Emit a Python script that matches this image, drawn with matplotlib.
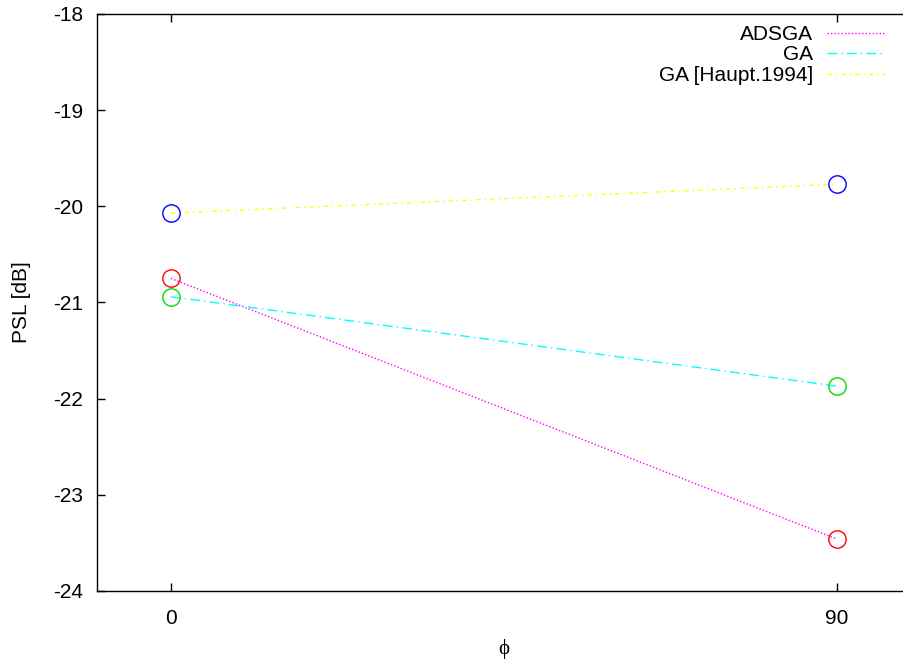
import matplotlib
matplotlib.use("Agg")
import matplotlib.pyplot as plt

# data
phi = [0, 90]
adsga = [-20.75, -23.46]
ga = [-20.94, -21.87]
haupt = [-20.07, -19.77]

labels = ["ADSGA", "GA", "GA [Haupt.1994]"]
line_colors = ["#ff00ff", "#00ffff", "#ffff00"]
marker_colors = ["#ff0000", "#00dd00", "#0000ff"]
dashes = [(0, (1, 1.5)), (0, (7, 3, 1, 3)), (0, (3, 3, 1, 3))]

plt.rcParams["font.family"] = ["Liberation Sans", "DejaVu Sans"]
plt.rcParams["font.size"] = 15
plt.rcParams["axes.unicode_minus"] = False

fig = plt.figure(figsize=(9.04, 6.65), dpi=100)
# right edge of the frame falls just outside the picture, as in the reference
ax = fig.add_axes([97 / 904, 74 / 665, 814 / 904, 577 / 665])

series = [adsga, ga, haupt]
for vals, lab, lc, ls in zip(series, labels, line_colors, dashes):
    ax.plot(phi, vals, color=lc, linestyle=ls, lw=1.0, label=lab)
for vals, mc in zip(series, marker_colors):
    ax.plot(phi, vals, linestyle="none", marker="o", markersize=12.5,
            markerfacecolor="none", markeredgecolor=mc, markeredgewidth=1.0)

ax.set_xlim(-10, 100)
ax.set_ylim(-24, -18)
ax.set_xticks([0, 90])
ax.set_yticks([-24, -23, -22, -21, -20, -19, -18])
ax.tick_params(direction="in", length=6, width=1, top=True, right=True)
ax.tick_params(axis="y", pad=10)
ax.tick_params(axis="x", pad=13)
for s in ax.spines.values():
    s.set_linewidth(1.0)

ax.set_ylabel("PSL [dB]", labelpad=16)
ax.set_xlabel("\u03d5", labelpad=8, family=["Liberation Serif", "DejaVu Serif"])

ax.legend(loc="upper right", bbox_to_anchor=(0.968, 0.981), frameon=False,
          markerfirst=False, handlelength=2.8, handletextpad=0.65,
          labelspacing=0.07, borderpad=0, borderaxespad=0, fontsize=15)

fig.savefig("out.png", dpi=100)
